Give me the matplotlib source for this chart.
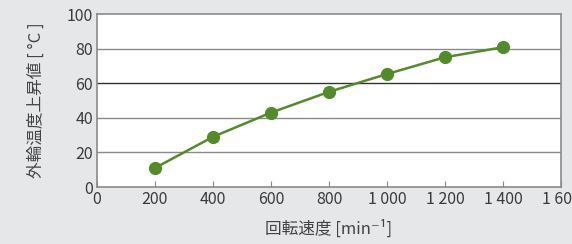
import matplotlib
matplotlib.use("Agg")
import matplotlib.pyplot as plt

plt.rcParams['font.family'] = ['Noto Sans CJK JP', 'DejaVu Sans']

speed = [200, 400, 600, 800, 1000, 1200, 1400]
temp_rise = [11, 29, 43, 55, 65.3, 75, 80.8]
x_ticks = [0, 200, 400, 600, 800, 1000, 1200, 1400, 1600]
x_labels = ["0", "200", "400", "600", "800", "1 000", "1 200", "1 400", "1 600"]
y_ticks = [0, 20, 40, 60, 80, 100]

bg = "#e6e7e9"
green = "#548b2a"

fig = plt.figure(figsize=(5.72, 2.44), dpi=100, facecolor=bg)
ax = fig.add_axes([97 / 572, 57 / 244, 464 / 572, 173 / 244])
ax.set_facecolor("white")

for y in y_ticks[1:-1]:
    ax.axhline(y, color="#333333" if y == 60 else "#8a8a8a", lw=1.0, zorder=1)

ax.plot(speed, temp_rise, color=green, lw=1.8, marker="o", ms=8.5, zorder=3)

ax.set_xlim(0, 1600)
ax.set_ylim(0, 100)
ax.set_xticks(x_ticks)
ax.set_xticklabels(x_labels, fontsize=11.5, color="#3a3a3a")
ax.set_yticks(y_ticks)
ax.set_yticklabels([str(v) for v in y_ticks], fontsize=11.5, color="#3a3a3a")
ax.tick_params(axis="x", direction="in", length=4, color="#8a8a8a", pad=3)
ax.tick_params(axis="y", length=0, pad=3)
for s in ax.spines.values():
    s.set_color("#8a8a8a")
    s.set_linewidth(1.2)

ax.set_xlabel("回転速度 [min⁻¹]", fontsize=12, color="#444444", labelpad=8)
ax.set_ylabel("外輪温度上昇値 [ °C ]", fontsize=12, color="#444444", labelpad=16)

fig.savefig("out.png", dpi=100, facecolor=bg)
